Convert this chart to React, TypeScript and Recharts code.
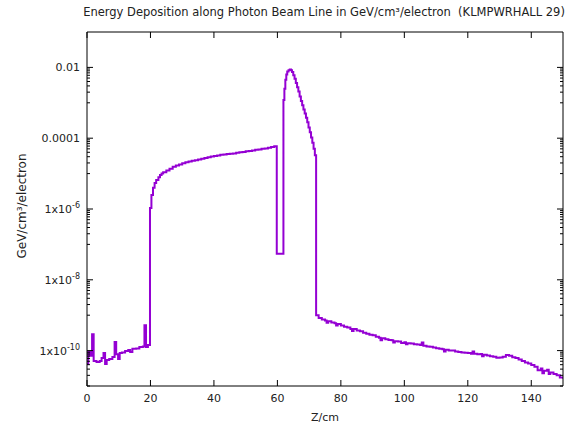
import { LineChart, Line, XAxis, YAxis } from "recharts";

// [Z (cm) where a histogram step begins, energy deposition in GeV/cm3/electron]
const upstream: [number, number][] = [
  [0, 4.2e-11], [0.4, 9.1e-11], [1.0, 7.1e-11], [1.6, 2.9e-10], [2.1, 5.1e-11], [3.0, 4.8e-11],
  [4.0, 5.1e-11], [4.6, 6.2e-11], [5.2, 8.5e-11], [5.7, 4.2e-11], [6.2, 5.4e-11], [7.0, 5.8e-11],
  [8.0, 6.6e-11], [8.7, 1.74e-10], [9.2, 7.9e-11], [9.8, 5.8e-11], [10.3, 8.5e-11], [11, 8.9e-11],
  [12, 9.8e-11], [13, 1.04e-10], [13.6, 9.1e-11], [14.3, 1.12e-10], [15.5, 1.15e-10], [16.5, 1.26e-10],
  [17.6, 1.3e-10], [18.1, 5.2e-10], [18.6, 1.26e-10], [19.2, 1.45e-10],
];

const ramp: [number, number][] = [
  [19.85, 1.07e-6], [20.3, 2.5e-6], [20.8, 4.0e-6], [21.3, 5.4e-6], [21.8, 6.6e-6], [22.5, 7.9e-6],
  [23, 9.1e-6], [23.5, 1.0e-5], [24, 1.1e-5], [25, 1.23e-5], [26, 1.38e-5], [27, 1.55e-5],
  [28, 1.7e-5], [29, 1.82e-5], [30, 1.95e-5], [31, 2.09e-5], [32, 2.19e-5], [33, 2.29e-5],
  [34, 2.4e-5], [35, 2.51e-5], [36, 2.63e-5], [37, 2.75e-5], [38, 2.88e-5], [39, 3.02e-5],
  [40, 3.16e-5], [41, 3.24e-5], [42, 3.39e-5], [43, 3.47e-5], [44, 3.55e-5], [45, 3.63e-5],
  [46, 3.72e-5], [47, 3.89e-5], [48, 3.98e-5], [49, 4.07e-5], [50, 4.27e-5], [51, 4.37e-5],
  [52, 4.47e-5], [53, 4.68e-5], [54, 4.79e-5], [55, 5.01e-5], [56, 5.13e-5], [57, 5.37e-5],
  [58, 5.62e-5], [59, 5.89e-5],
];

const peak: [number, number][] = [
  [59.8, 5.4e-8], [61.9, 1.2e-3], [62.2, 2.5e-3], [62.5, 4.5e-3], [62.8, 6.3e-3], [63.1, 7.6e-3],
  [63.5, 8.3e-3], [63.9, 8.7e-3], [64.3, 8.3e-3], [64.6, 7.4e-3], [65.0, 6.0e-3], [65.4, 4.8e-3],
  [65.8, 3.6e-3], [66.2, 2.75e-3], [66.6, 2.1e-3], [67.0, 1.5e-3], [67.4, 1.12e-3], [67.8, 8.5e-4],
  [68.2, 6.5e-4], [68.6, 5.0e-4], [69.0, 3.8e-4], [69.4, 2.8e-4], [69.8, 2.0e-4], [70.2, 1.48e-4],
  [70.6, 1.05e-4], [71.0, 7.4e-5], [71.4, 5.0e-5], [71.8, 3.3e-5],
];

const tail: [number, number][] = [
  [72.2, 1.0e-9], [73, 8.3e-10], [74, 7.6e-10], [75, 7.1e-10], [75.5, 6.1e-10], [76, 6.8e-10],
  [77, 6.2e-10], [78, 5.9e-10], [78.5, 5.1e-10], [79, 5.6e-10], [80, 5.1e-10], [81, 4.7e-10],
  [82, 4.5e-10], [83, 4.1e-10], [83.5, 3.6e-10], [84, 4.1e-10], [85, 3.7e-10], [86, 3.5e-10],
  [87, 3.2e-10], [88, 3.0e-10], [89, 2.8e-10], [90, 2.7e-10], [91, 2.45e-10], [92, 2.3e-10],
  [92.5, 1.95e-10], [93, 2.25e-10], [94, 2.1e-10], [95, 2.0e-10], [96, 1.95e-10], [96.5, 1.7e-10],
  [97, 1.85e-10], [98, 1.8e-10], [99, 1.65e-10], [100, 1.72e-10], [100.5, 1.5e-10], [101, 1.62e-10],
  [102, 1.58e-10], [103, 1.5e-10], [104, 1.48e-10], [105, 1.45e-10], [105.5, 1.7e-10], [106, 1.36e-10],
  [107, 1.3e-10], [108, 1.28e-10], [109, 1.22e-10], [110, 1.17e-10], [111, 1.13e-10], [112, 1.1e-10],
  [112.5, 9.4e-11], [113, 1.06e-10], [114, 1.0e-10], [115, 1.0e-10], [116, 9.4e-11], [117, 9.2e-11],
  [118, 8.8e-11], [119, 8.7e-11], [120, 8.6e-11], [121, 8.2e-11], [121.5, 9.4e-11], [122, 8.2e-11],
  [123, 7.9e-11], [124, 8.0e-11], [124.5, 6.9e-11], [125, 7.6e-11], [126, 7.3e-11], [127, 6.9e-11],
  [128, 6.7e-11], [129, 6.3e-11], [130, 6.4e-11], [131, 6.7e-11], [132, 7.5e-11], [133, 7.2e-11],
  [134, 6.5e-11], [135, 6.2e-11], [136, 5.6e-11], [137, 5.1e-11], [138, 4.6e-11], [139, 4.3e-11],
  [140, 3.9e-11], [141, 3.5e-11], [142, 2.8e-11], [143, 3.1e-11], [143.5, 2.3e-11], [144, 2.7e-11],
  [145, 2.9e-11], [145.5, 2.2e-11], [146, 2.4e-11], [147, 2.2e-11], [148, 2.0e-11], [149, 1.75e-11],
  [150, 1.6e-11],
];

const xTicks = [0, 20, 40, 60, 80, 100, 120, 140];
const yMajorTicks = [1e-10, 1e-8, 1e-6, 1e-4, 1e-2];
const yTickLabels: [string, string][] = [["1x10", "-10"], ["1x10", "-8"], ["1x10", "-6"], ["0.0001", ""], ["0.01", ""]];

const data = [...upstream, ...ramp, ...peak, ...tail].map(([z, e]) => ({ z, e }));

// gnuplot-style minor tics: k * major / 10 below each major
const yMinorTicks = yMajorTicks.flatMap((m) => [1, 2, 3, 4, 5, 6, 7, 8, 9].map((k) => (k * m) / 10));
const yTicks = [...yMinorTicks, ...yMajorTicks];

const FONT = "'DejaVu Sans', sans-serif";
const majorIndex = (v: number) => yMajorTicks.findIndex((m) => Math.abs(v / m - 1) < 1e-6);

const LeftTick = (props: any) => {
  const { x, y, payload } = props;
  const i = majorIndex(payload.value);
  return (
    <g>
      <line x1={x} x2={x + (i >= 0 ? 6 : 3)} y1={y} y2={y} stroke="#000" strokeWidth={1} />
      {i >= 0 && (
        <text x={x - 7} y={y} dy={4} textAnchor="end" fontSize={11} fontFamily={FONT} fill="#222">
          <tspan>{yTickLabels[i][0]}</tspan>
          {yTickLabels[i][1] && (
            <tspan dy={-5} fontSize={8}>
              {yTickLabels[i][1]}
            </tspan>
          )}
        </text>
      )}
    </g>
  );
};

const RightTick = (props: any) => {
  const { x, y, payload } = props;
  const len = majorIndex(payload.value) >= 0 ? 6 : 3;
  return <line x1={x} x2={x - len} y1={y} y2={y} stroke="#000" strokeWidth={1} />;
};

const BottomTick = (props: any) => {
  const { x, y, payload } = props;
  return (
    <g>
      <line x1={x} x2={x} y1={y} y2={y - 6} stroke="#000" strokeWidth={1} />
      <text x={x} y={y + 16} textAnchor="middle" fontSize={11} fontFamily={FONT} fill="#222">
        {payload.value}
      </text>
    </g>
  );
};

const TopTick = (props: any) => {
  const { x, y } = props;
  return <line x1={x} x2={x} y1={y} y2={y + 6} stroke="#000" strokeWidth={1} />;
};

export default function App() {
  return (
    <div style={{ position: "absolute", left: 0, top: 0, width: 575, height: 427, background: "#fff", fontFamily: FONT }}>
      <div style={{ position: "absolute", left: 324, top: 5, transform: "translateX(-50%)", whiteSpace: "nowrap", fontSize: 11.5, lineHeight: "14px", color: "#222" }}>
        Energy Deposition along Photon Beam Line in GeV/cm³/electron&nbsp;&nbsp;(KLMPWRHALL 29)
      </div>
      <div style={{ position: "absolute", left: 325, top: 411, transform: "translateX(-50%)", whiteSpace: "nowrap", fontSize: 11, lineHeight: "14px", color: "#222" }}>
        Z/cm
      </div>
      <div style={{ position: "absolute", left: 22, top: 206, transform: "translate(-50%, -50%) rotate(-90deg)", whiteSpace: "nowrap", fontSize: 12, lineHeight: "14px", color: "#222" }}>
        GeV/cm³/electron
      </div>
      <LineChart width={575} height={427} data={data} margin={{ top: 31, right: 11, bottom: 0, left: 0 }}>
        <XAxis
          dataKey="z"
          type="number"
          domain={[0, 150]}
          ticks={xTicks}
          interval={0}
          height={41}
          tickSize={0}
          tickMargin={0}
          tickLine={false}
          tick={<BottomTick />}
          axisLine={{ stroke: "#000" }}
          allowDataOverflow
        />
        <XAxis
          xAxisId="top"
          orientation="top"
          dataKey="z"
          type="number"
          domain={[0, 150]}
          ticks={xTicks}
          interval={0}
          height={1}
          tickSize={0}
          tickMargin={0}
          tickLine={false}
          tick={<TopTick />}
          axisLine={{ stroke: "#000" }}
          allowDataOverflow
        />
        <YAxis
          scale="log"
          type="number"
          domain={[1e-11, 0.1]}
          ticks={yTicks}
          interval={0}
          width={87}
          tickSize={0}
          tickMargin={0}
          tickLine={false}
          tick={<LeftTick />}
          axisLine={{ stroke: "#000" }}
          allowDataOverflow
        />
        <YAxis
          yAxisId="right"
          orientation="right"
          scale="log"
          type="number"
          domain={[1e-11, 0.1]}
          ticks={yTicks}
          interval={0}
          width={1}
          tickSize={0}
          tickMargin={0}
          tickLine={false}
          tick={<RightTick />}
          axisLine={{ stroke: "#000" }}
          allowDataOverflow
        />
        <Line
          xAxisId="top"
          yAxisId="right"
          type="stepAfter"
          dataKey="e"
          stroke="none"
          dot={false}
          activeDot={false}
          isAnimationActive={false}
        />
        <Line
          type="stepAfter"
          dataKey="e"
          stroke="#9400d3"
          strokeWidth={2}
          dot={false}
          activeDot={false}
          isAnimationActive={false}
        />
      </LineChart>
    </div>
  );
}
